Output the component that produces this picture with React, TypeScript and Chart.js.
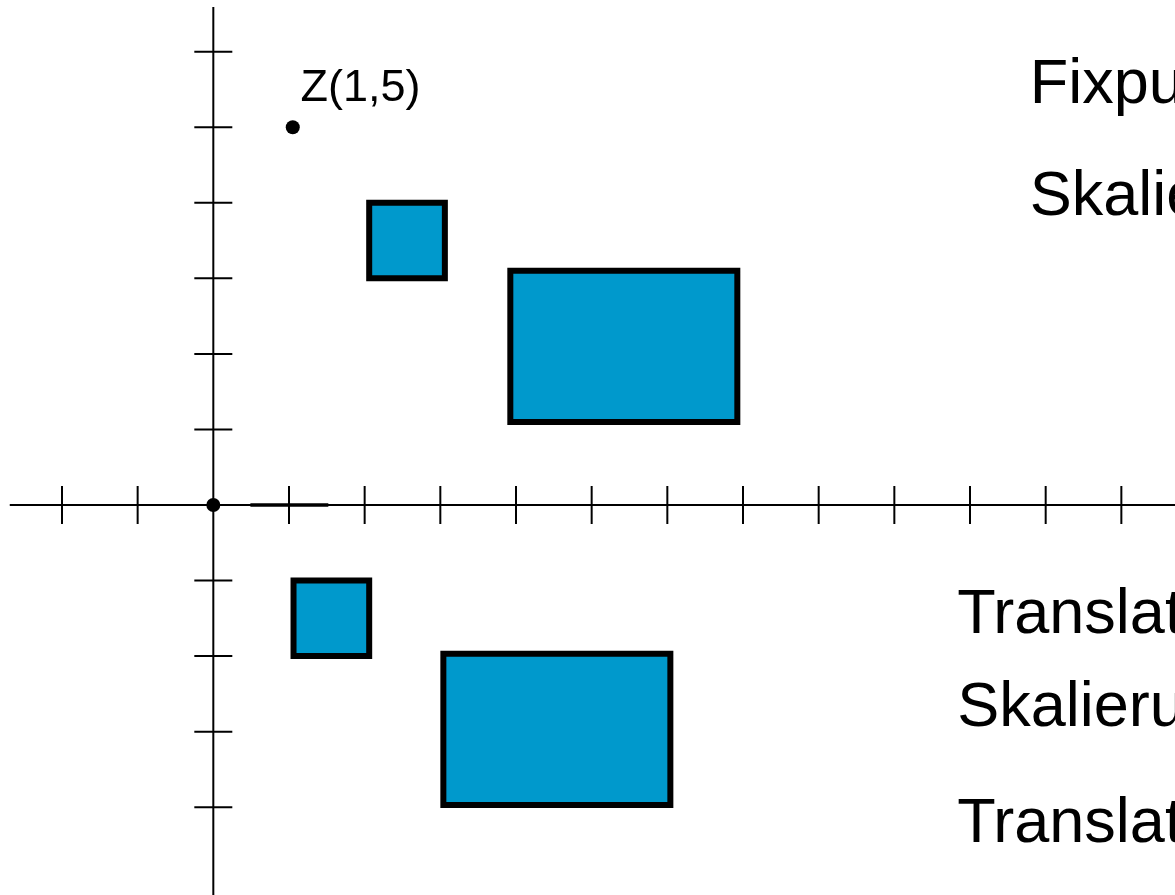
import { useEffect, useRef } from "react";
import { Chart, registerables } from "chart.js";

Chart.register(...registerables);

// ---- data (coordinate units) ----
const xTicks = [-2, -1, 1, 2, 3, 4, 5, 6, 7, 8, 9, 10, 11, 12];
const yTicks = [6, 5, 4, 3, 2, 1, -1, -2, -3, -4];
const xAxisSpan = [-2.69, 13.2];
const yAxisSpan = [-5.4, 6.59];
const highlightSpan = [0.49, 1.52];
// rectangles: [x1, x2, y1, y2]
const squareOrigin = [1.06, 2.06, -2, -1];
const rectOrigin = [3.04, 6.04, -3.97, -1.97];
const squareMoved = [2.06, 3.06, 3, 4];
const rectMoved = [3.925, 6.925, 1.1, 3.1];
const pointX = [0, 1.05];
const pointY = [0, 5];
const pointLabel = "Z(1,5)";
const stepLabels = ["Fixpunkt", "Skalierung", "Translation", "Skalierung", "Translation"];

const X_MIN = -2.819;
const X_MAX = 12.709;
const Y_MIN = -5.162;
const Y_MAX = 6.684;

const FILL = "#0099cc";

function rectPath(r: number[]) {
  const [x1, x2, y1, y2] = r;
  return [
    { x: x1, y: y1 },
    { x: x2, y: y1 },
    { x: x2, y: y2 },
    { x: x1, y: y2 },
    { x: x1, y: y1 },
  ];
}

const labelPlugin = {
  id: "labelPlugin",
  afterDatasetsDraw(chart: any) {
    const { ctx, scales } = chart;
    const sx = scales.x;
    const sy = scales.y;
    const big = [
      { t: stepLabels[0], x: 10.79, y: 5.317 },
      { t: stepLabels[1], x: 10.79, y: 3.832 },
      { t: stepLabels[2], x: 9.83, y: -1.698 },
      { t: stepLabels[3], x: 9.83, y: -2.921 },
      { t: stepLabels[4], x: 9.83, y: -4.457 },
    ];
    ctx.save();
    ctx.fillStyle = "#000";
    ctx.textAlign = "left";
    ctx.textBaseline = "alphabetic";
    ctx.font = "63px 'Liberation Sans', Arial, sans-serif";
    for (const b of big) {
      ctx.fillText(b.t, sx.getPixelForValue(b.x), sy.getPixelForValue(b.y));
    }
    ctx.font = "45px 'Liberation Sans', Arial, sans-serif";
    ctx.fillText(pointLabel, sx.getPixelForValue(1.152), sy.getPixelForValue(5.35));
    ctx.restore();
  },
};

export default function App() {
  const ref = useRef<HTMLCanvasElement | null>(null);

  useEffect(() => {
    if (!ref.current) return;
    const rectDs = (r: number[]) => ({
      data: rectPath(r),
      showLine: true,
      fill: "shape",
      backgroundColor: FILL,
      borderColor: "#000",
      borderWidth: 6,
      borderJoinStyle: "miter",
      borderCapStyle: "square",
      pointRadius: 0,
      tension: 0,
    });
    const chart = new Chart(ref.current, {
      type: "scatter",
      data: {
        datasets: [
          {
            data: pointX.map((x, i) => ({ x, y: pointY[i] })),
            pointRadius: 7,
            pointBackgroundColor: "#000",
            pointBorderWidth: 0,
            showLine: false,
          },
          rectDs(squareMoved) as any,
          rectDs(rectMoved) as any,
          rectDs(squareOrigin) as any,
          rectDs(rectOrigin) as any,
          {
            data: xTicks.map((x) => ({ x, y: 0 })),
            pointStyle: "line",
            pointRotation: 90,
            pointRadius: 19,
            pointBorderWidth: 2,
            pointBorderColor: "#000",
            showLine: false,
          },
          {
            data: yTicks.map((y) => ({ x: 0, y })),
            pointStyle: "line",
            pointRotation: 0,
            pointRadius: 19,
            pointBorderWidth: 2,
            pointBorderColor: "#000",
            showLine: false,
          },
          {
            data: highlightSpan.map((x) => ({ x, y: 0 })),
            showLine: true,
            borderColor: "#000",
            borderWidth: 3.5,
            pointRadius: 0,
          },
          {
            data: xAxisSpan.map((x) => ({ x, y: 0 })),
            showLine: true,
            borderColor: "#000",
            borderWidth: 2,
            pointRadius: 0,
          },
          {
            data: yAxisSpan.map((y) => ({ x: 0, y })),
            showLine: true,
            borderColor: "#000",
            borderWidth: 2,
            pointRadius: 0,
          },
        ],
      },
      options: {
        animation: false,
        responsive: true,
        maintainAspectRatio: false,
        events: [],
        layout: { padding: 0, autoPadding: false },
        plugins: {
          legend: { display: false },
          tooltip: { enabled: false },
        },
        scales: {
          x: { type: "linear", min: X_MIN, max: X_MAX, display: false, bounds: "data" },
          y: { type: "linear", min: Y_MIN, max: Y_MAX, display: false, bounds: "data" },
        },
      },
      plugins: [labelPlugin],
    } as any);
    return () => chart.destroy();
  }, []);

  return (
    <div
      style={{
        position: "fixed",
        left: 0,
        top: 0,
        width: 1175,
        height: 895,
        background: "#fff",
        overflow: "hidden",
      }}
    >
      <canvas ref={ref} />
    </div>
  );
}
